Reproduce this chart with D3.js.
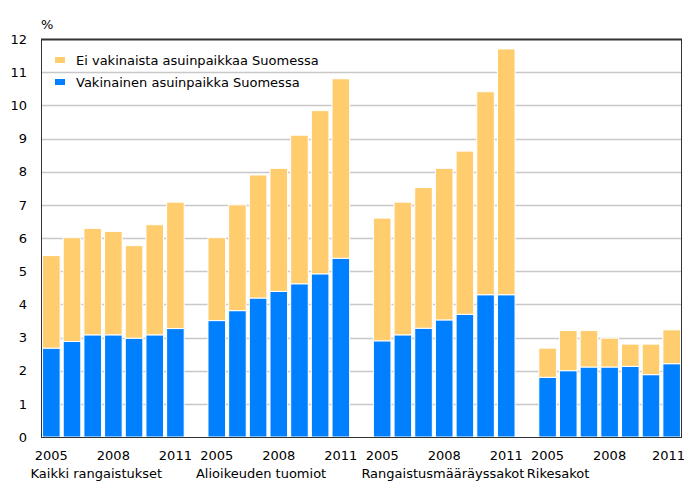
<!DOCTYPE html>
<html>
<head>
<meta charset="utf-8">
<script src="https://cdn.jsdelivr.net/npm/d3@7"></script>
<style>
  body { margin: 0; background: #fff; }
  text { font-family: "DejaVu Sans", sans-serif; font-size: 13px; fill: #000; }
</style>
</head>
<body>
<div id="chart"></div>
<script>
const years = [2005, 2006, 2007, 2008, 2009, 2010, 2011]
const yearLabels = [2005, 2008, 2011]
const groups = ['Kaikki rangaistukset', 'Alioikeuden tuomiot', 'Rangaistusmääräyssakot', 'Rikesakot']
const seriesNames = ['Ei vakinaista asuinpaikkaa Suomessa', 'Vakinainen asuinpaikka Suomessa']
// vakinainen asuinpaikka (sininen), ryhmittäin
const vakinainen = [
    [2.68, 2.88, 3.08, 3.08, 2.98, 3.08, 3.27],
    [3.51, 3.81, 4.19, 4.39, 4.62, 4.92, 5.39],
    [2.90, 3.08, 3.28, 3.53, 3.70, 4.29, 4.29],
    [1.80, 2.00, 2.11, 2.11, 2.13, 1.88, 2.21]
]
// ei vakinaista asuinpaikkaa (keltainen), pinottuna päälle
const eiVakinaista = [
    [2.79, 3.13, 3.21, 3.12, 2.79, 3.32, 3.81],
    [2.50, 3.19, 3.71, 3.71, 4.48, 4.92, 5.41],
    [3.70, 4.00, 4.24, 4.57, 4.92, 6.12, 7.41],
    [0.88, 1.21, 1.10, 0.87, 0.67, 0.92, 1.02]
]
const yTicks = [0, 1, 2, 3, 4, 5, 6, 7, 8, 9, 10, 11, 12]

const width = 686
const height = 481
const margin = { top: 39, right: 4, bottom: 44, left: 41 }
const colors = ['#ffcc6e', '#0080ff']

const svg = d3.select('#chart').append('svg')
    .attr('width', width)
    .attr('height', height)

// rivit + tyhjä väli ryhmien välissä
const rows = []
const slots = []
groups.forEach((g, gi) => {
    if (gi > 0) slots.push('gap' + gi)
    years.forEach((y, yi) => {
        const key = gi + '-' + y
        slots.push(key)
        rows.push({ key, group: gi, year: y, vak: vakinainen[gi][yi], ei: eiVakinaista[gi][yi] })
    })
})

const x = d3.scaleBand()
    .domain(slots)
    .range([margin.left, width - margin.right])
    .paddingInner(0.15)
    .paddingOuter(0.075)

const y = d3.scaleLinear()
    .domain([0, 12])
    .range([height - margin.bottom, margin.top])

// grid
svg.append('g')
    .selectAll('line')
    .data(yTicks.slice(1, -1))
    .join('line')
    .attr('x1', margin.left)
    .attr('x2', width - margin.right)
    .attr('y1', d => Math.round(y(d)) + 0.5)
    .attr('y2', d => Math.round(y(d)) + 0.5)
    .attr('stroke', '#c8c8c8')
    .attr('stroke-width', 1.5)

const stacked = d3.stack().keys(['vak', 'ei'])(rows)
const colorByKey = { vak: colors[1], ei: colors[0] }

svg.append('g')
    .selectAll('g')
    .data(stacked)
    .join('g')
    .attr('fill', d => colorByKey[d.key])
    .selectAll('rect')
    .data(d => d)
    .join('rect')
    .attr('x', d => x(d.data.key))
    .attr('width', x.bandwidth())
    .attr('y', d => y(d[1]))
    .attr('height', d => y(d[0]) - y(d[1]))
    .attr('stroke', '#fff')
    .attr('stroke-width', 1)

// kehys
svg.append('rect')
    .attr('x', margin.left + 0.5)
    .attr('y', margin.top + 0.5)
    .attr('width', width - margin.right - margin.left - 1)
    .attr('height', height - margin.bottom - margin.top)
    .attr('fill', 'none')
    .attr('stroke', '#333')
    .attr('stroke-width', 1)
svg.append('line')
    .attr('x1', margin.left).attr('x2', width - margin.right)
    .attr('y1', margin.top + 0.5).attr('y2', margin.top + 0.5)
    .attr('stroke', '#333').attr('stroke-width', 2)

// y-akseli
const yAxis = d3.axisLeft(y).tickValues(yTicks).tickSize(0).tickPadding(14)
svg.append('g')
    .attr('transform', `translate(${margin.left},0)`)
    .call(yAxis)
    .call(g => g.select('.domain').remove())
    .call(g => g.selectAll('text')
        .attr('font-family', '"DejaVu Sans", sans-serif')
        .attr('font-size', 13)
        .attr('fill', '#000'))

svg.append('text')
    .attr('x', margin.left)
    .attr('y', 29)
    .attr('font-size', 14)
    .text('%')

// vuodet (viimeinen ei saa mennä reunan yli)
svg.append('g')
    .selectAll('text')
    .data(rows.filter(d => yearLabels.includes(d.year)))
    .join('text')
    .attr('y', 460)
    .attr('text-anchor', 'middle')
    .text(d => d.year)
    .attr('x', function (d) {
        const w = this.getComputedTextLength()
        return Math.min(x(d.key) + x.bandwidth() / 2, width - 1 - w / 2)
    })

// ryhmien nimet, ei päällekkäin
let prevEnd = -Infinity
groups.forEach((g, gi) => {
    const t = svg.append('text')
        .attr('y', 478)
        .text(g)
    const start = Math.max(x(gi + '-' + years[0]) - 12, prevEnd + 2)
    t.attr('x', start)
    prevEnd = start + t.node().getComputedTextLength()
})

// selite
const legend = svg.append('g')
    .selectAll('g')
    .data(seriesNames)
    .join('g')
    .attr('transform', (d, i) => `translate(55, ${57 + i * 22})`)
legend.append('rect')
    .attr('width', 10)
    .attr('height', 6)
    .attr('fill', (d, i) => colors[i])
legend.append('text')
    .attr('x', 21)
    .attr('y', 8)
    .text(d => d)
</script>
</body>
</html>
